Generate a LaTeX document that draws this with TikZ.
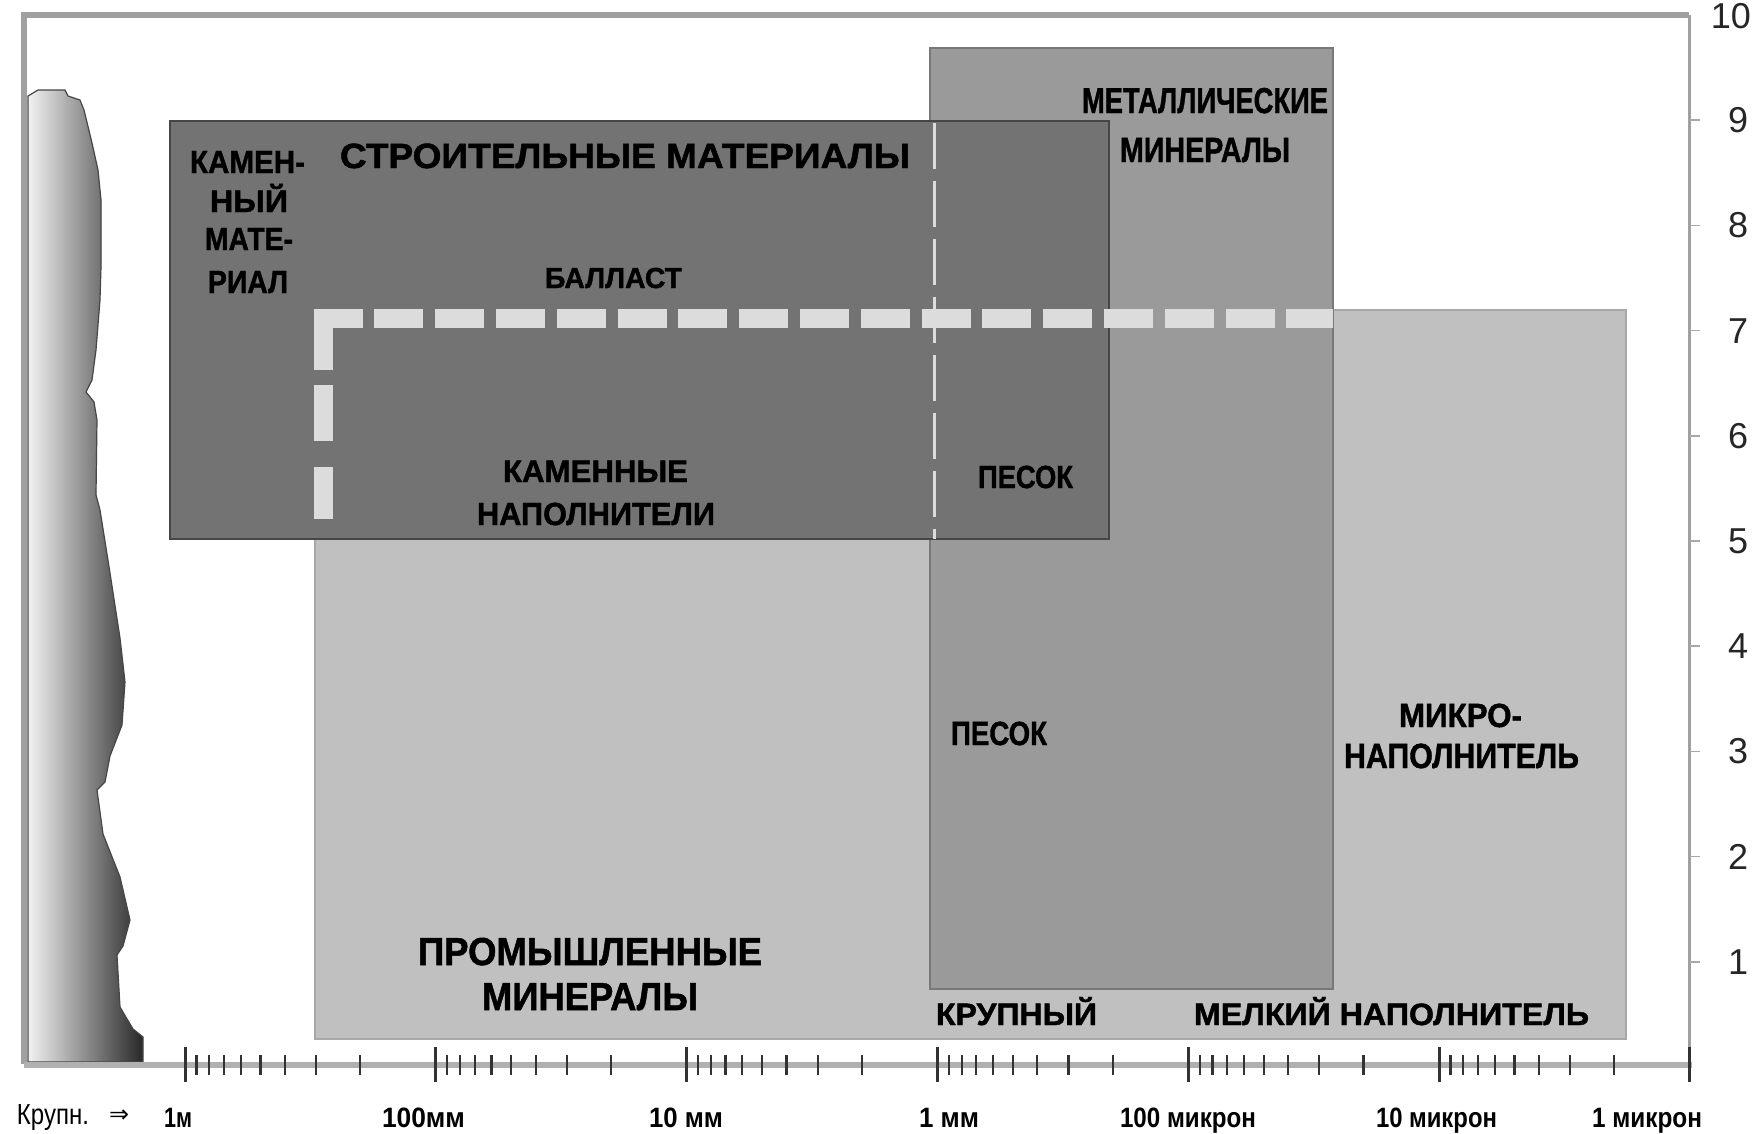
\documentclass[tikz,border=0pt]{standalone}
\usepackage{fontspec}
\usepackage{graphicx}
\setmainfont{Liberation Sans}
\newfontfamily\heavyfont[FakeBold=1.3]{Liberation Sans Bold}
\newfontfamily\symfont{DejaVu Sans}
\newcommand\lab[3]{\fontsize{#1}{#1}\selectfont\resizebox{#2pt}{\height}{#3}}
\definecolor{darkbox}{RGB}{115,115,115}
\definecolor{darkedge}{RGB}{70,70,70}
\definecolor{medbox}{RGB}{154,154,154}
\definecolor{mededge}{RGB}{120,120,120}
\definecolor{lightbox}{RGB}{192,192,192}
\definecolor{lightedge}{RGB}{168,168,168}
\definecolor{dashcol}{RGB}{220,220,220}
\definecolor{framecol}{RGB}{160,160,160}
\definecolor{axiscol}{RGB}{176,176,176}
\definecolor{tickcol}{RGB}{50,50,50}
\definecolor{silL}{RGB}{242,242,242}
\definecolor{silR}{RGB}{40,40,40}
\begin{document}
\begin{tikzpicture}[x=1pt,y=-1pt,
  txt/.style={inner sep=0pt, anchor=base, font=\heavyfont, text=black},
  axlab/.style={inner sep=0pt, anchor=base, font=\bfseries, text=black},
  ylab/.style={inner sep=0pt, anchor=center, font=\fontsize{36}{36}\selectfont, text=black!85},
  majtick/.style={draw=tickcol, line width=3},
  mintick/.style={draw=tickcol, line width=2.2},
  region/.style={line width=1.5}]
\fill[white] (0,0) rectangle (1752,1133);
\useasboundingbox (0,0) rectangle (1752,1133);

% frame
\draw[framecol, line width=6] (24,1064) -- (24,15) -- (1689,15);
\draw[framecol, line width=3] (1689,15) -- (1689,1065);
\foreach \v in {1,...,9}
  \draw[lightedge, line width=1.5] (1689,{1067-105.2*\v}) -- (1700,{1067-105.2*\v});

% silhouette (cliff profile)
\path[draw=darkedge, line width=1.2, left color=silL, right color=silR]
 (28,1062) -- (28,96) -- (38,90) -- (65,90) -- (68,96) -- (80,100) -- (84,110)
 -- (92,143) -- (98,170) -- (101,200) -- (101,267) -- (100,300) -- (96,350)
 -- (92,380) -- (86,392) -- (94,402) -- (97,420) -- (96,495) -- (100,510)
 -- (110,573) -- (120,638) -- (125,682) -- (122,725) -- (110,756) -- (105,782)
 -- (97,790) -- (103,834) -- (120,877) -- (130,920) -- (123,946) -- (117,955)
 -- (120,1007) -- (133,1029) -- (143,1037) -- (143,1062) -- cycle;

% regions
\path[region, fill=lightbox, draw=lightedge] (315,310) rectangle (1626,1039);
\path[region, fill=medbox, draw=mededge] (930,48) rectangle (1333,989);
\path[region, fill=darkbox, draw=darkedge] (170,121) rectangle (1109,539);

% thin dashed divider at 1 mm
\draw[dashcol, line width=3, dash pattern=on 46 off 12] (934,123) -- (934,539);

% thick dashed boundary
\draw[dashcol, line width=19, line cap=butt,
      dash pattern=on 52 off 26 on 56 off 15 on 80] (323,519) -- (323,308.5);
\draw[dashcol, line width=19, line cap=butt,
      dash pattern=on 49 off 11.8] (313.5,318) -- (1333,318);

% axis
\draw[axiscol, line width=6] (24,1065) -- (1692,1065);
\foreach \k in {0,...,6}
  \draw[majtick] ({185+250.8*\k},1047) -- ({185+250.8*\k},1082);
\foreach \k in {0,...,5}
  \foreach \v in {2,...,9}
    \draw[mintick] ({185+250.8*(\k+1-ln(\v)/2.302585)},1055) -- ({185+250.8*(\k+1-ln(\v)/2.302585)},1075);

% right scale
\node[ylab, anchor=east] (y10) at (1751,16) {10};
\node[ylab] (y9) at (1738,120) {9};
\node[ylab] (y8) at (1738,225) {8};
\node[ylab] (y7) at (1738,331) {7};
\node[ylab] (y6) at (1738,436) {6};
\node[ylab] (y5) at (1738,541) {5};
\node[ylab] (y4) at (1738,646) {4};
\node[ylab] (y3) at (1738,751) {3};
\node[ylab] (y2) at (1738,857) {2};
\node[ylab] (y1) at (1738,962) {1};

% labels in the regions
\node[txt] (kam1) at (247.5,173) {\lab{32}{115}{КАМЕН-}};
\node[txt] (kam2) at (249,212) {\lab{31}{78}{НЫЙ}};
\node[txt] (kam3) at (249,250) {\lab{32}{88}{МАТЕ-}};
\node[txt] (kam4) at (248,293) {\lab{32}{80}{РИАЛ}};
\node[txt] (build) at (625,168) {\lab{35}{570}{СТРОИТЕЛЬНЫЕ МАТЕРИАЛЫ}};
\node[txt] (ballast) at (613.5,288) {\lab{29}{137}{БАЛЛАСТ}};
\node[txt] (agg1) at (595.5,482) {\lab{31}{185}{КАМЕННЫЕ}};
\node[txt] (agg2) at (596,525) {\lab{32}{238}{НАПОЛНИТЕЛИ}};
\node[txt] (sand1) at (1025.5,488) {\lab{32}{95}{ПЕСОК}};
\node[txt] (met1) at (1205,113) {\lab{36}{246}{МЕТАЛЛИЧЕСКИЕ}};
\node[txt] (met2) at (1205,162) {\lab{35}{170}{МИНЕРАЛЫ}};
\node[txt] (sand2) at (999,745) {\lab{33.5}{96}{ПЕСОК}};
\node[txt] (micro1) at (1460.5,727) {\lab{33.5}{123}{МИКРО-}};
\node[txt] (micro2) at (1461.5,768) {\lab{35}{235}{НАПОЛНИТЕЛЬ}};
\node[txt] (ind1) at (590,965) {\lab{39}{344}{ПРОМЫШЛЕННЫЕ}};
\node[txt] (ind2) at (590,1010) {\lab{39}{216}{МИНЕРАЛЫ}};
\node[txt] (coarse) at (1016.5,1025) {\lab{31}{161}{КРУПНЫЙ}};
\node[txt] (fine) at (1391.5,1025) {\lab{31}{395}{МЕЛКИЙ НАПОЛНИТЕЛЬ}};

% axis labels
\node[axlab, font=\mdseries] (krupn) at (53,1124) {\lab{29}{72}{Крупн.}};
\node[axlab, font=\mdseries] (arrow) at (119,1122) {\symfont\lab{24}{20}{⇒}};
\node[axlab] (m1) at (178,1127) {\lab{28}{28}{1м}};
\node[axlab] (mm100) at (423.5,1127) {\lab{28}{83}{100мм}};
\node[axlab] (mm10) at (686,1127) {\lab{28}{74}{10 мм}};
\node[axlab] (mm1) at (949,1127) {\lab{28}{60}{1 мм}};
\node[axlab] (mu100) at (1188,1127) {\lab{28}{136}{100 микрон}};
\node[axlab] (mu10) at (1436.5,1127) {\lab{28}{121}{10 микрон}};
\node[axlab] (mu1) at (1647,1127) {\lab{28}{110}{1 микрон}};
\end{tikzpicture}
\end{document}
